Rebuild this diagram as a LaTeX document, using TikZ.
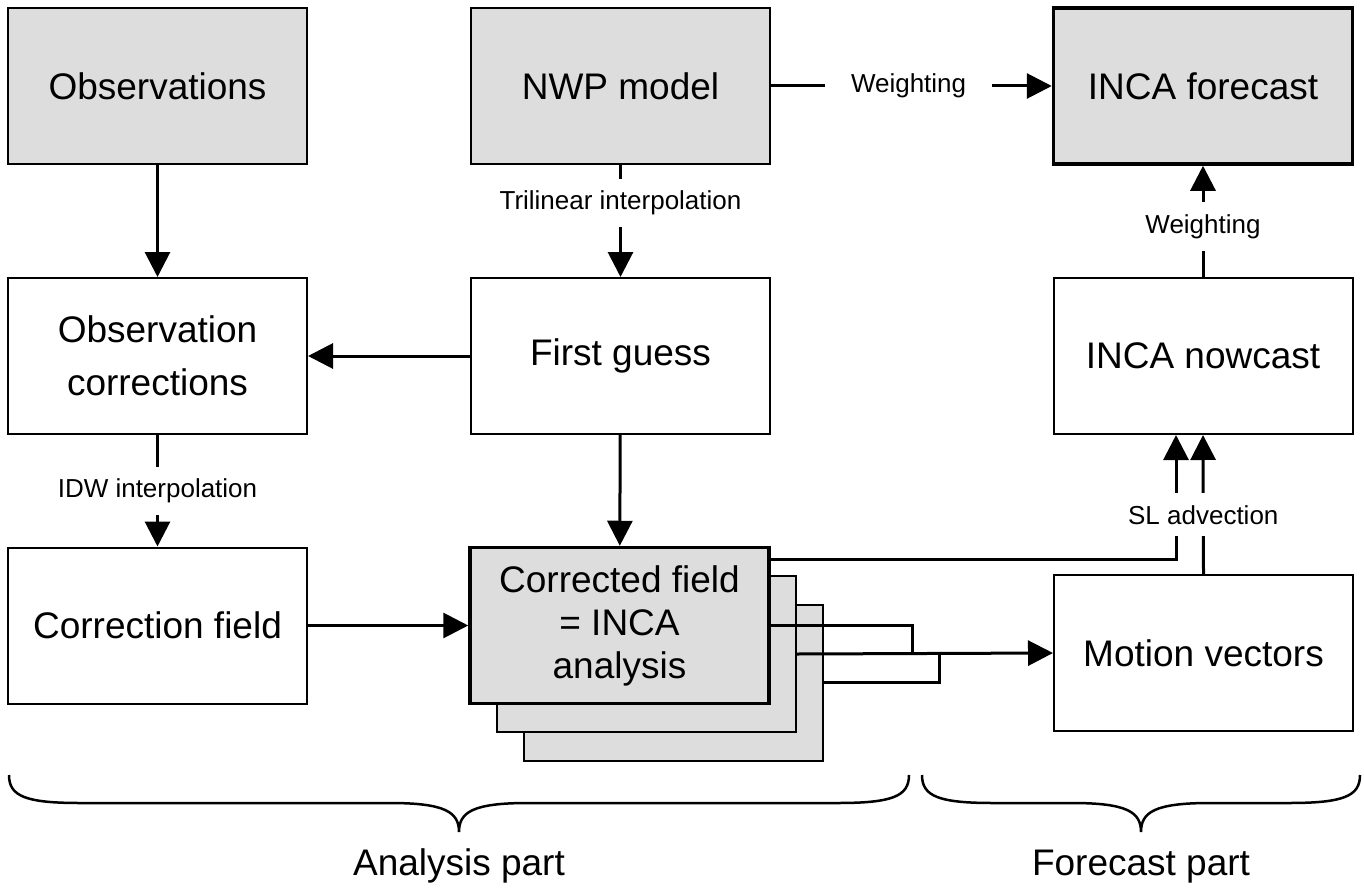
\documentclass[tikz,border=0pt]{standalone}
\usepackage{fontspec}
\setmainfont{Liberation Sans}
\usepackage{tikz}
\usetikzlibrary{arrows.meta}
\definecolor{boxgray}{RGB}{221,221,221}
\newcommand{\boxfont}{\fontsize{37}{43}\selectfont}
\newcommand{\notefont}{\fontsize{26}{30}\selectfont}

\begin{document}
\begin{tikzpicture}[x=1pt, y=-1pt,
    box/.style={draw, line width=2pt, minimum width=299pt, minimum height=156pt, inner sep=0pt, align=center, font=\boxfont},
    shaded/.style={box, fill=boxgray},
    heavy/.style={line width=3.5pt},
    link/.style={line width=3pt},
    flow/.style={link, -{Triangle[length=25pt, width=25pt]}},
    gaplabel/.style={fill=white, font=\notefont, inner xsep=26pt, inner ysep=12pt}]
      \useasboundingbox (0,0) rectangle (1364,888);

      \node [shaded] (obs) at (157.5,86) {Observations};
      \node [shaded] (nwp) at (620.5,86) {NWP model};
      \node [shaded, heavy] (fcst) at (1203,86) {INCA forecast};

      \node [box] (obscorr) at (157.5,356) {Observation\\[10pt]corrections};
      \node [box] (guess) at (620.5,356) {First guess};
      \node [box] (nowcast) at (1203,356) {INCA nowcast};

      \node [box] (corrfield) at (157.5,625.5) {Correction field};
      \node [shaded] (stackc) at (673.5,682.5) {};
      \node [shaded] (stackb) at (646.5,654) {};
      \node [shaded, heavy] (analysis) at (619.5,625.5) {Corrected field\\= INCA\\analysis};
      \node [box] (motion) at (1203.5,653) {Motion vectors};

      \draw[flow] (obs) -- (obscorr);
      \draw[flow] (nwp) -- node[gaplabel, pos=0.34] {Trilinear interpolation} (guess);
      \draw[flow] (nwp) -- node[gaplabel, pos=0.49] {Weighting} (fcst);
      \draw[flow] (guess) -- (obscorr);
      \draw[flow] (guess) -- (analysis);
      \draw[flow] (obscorr) -- node[gaplabel, pos=0.5] {IDW interpolation} (corrfield);
      \draw[flow] (corrfield) -- (analysis);
      \draw[flow] (nowcast) -- node[gaplabel, pos=0.455] {Weighting} (fcst);

      \coordinate (joinA) at (912,653);
      \coordinate (joinB) at (939,653);
      \draw[link] (analysis.east) -| (joinA);
      \draw[link] (stackc.east) -| (joinB);
      \draw[flow] (stackb.east) -- (motion.west);

      \draw[flow] ([yshift=-14pt]analysis.north east) -| ([xshift=-27pt]nowcast.south);
      \draw[flow] (motion.north) -- node[gaplabel, pos=0.425] {SL advection} (nowcast.south);

      \draw[line width=2.5pt] (9,775) .. controls (9,796) and (25,803) .. (80,803) -- (390,803)
        .. controls (445,803) and (459,812) .. (459,832) .. controls (459,812) and (473,803) .. (528,803)
        -- (838,803) .. controls (893,803) and (909,796) .. (909,775);
      \draw[line width=2.5pt] (922,775) .. controls (922,796) and (938,803) .. (993,803) -- (1072,803)
        .. controls (1127,803) and (1141,812) .. (1141,832) .. controls (1141,812) and (1155,803) .. (1210,803)
        -- (1289,803) .. controls (1344,803) and (1360,796) .. (1360,775);
      \node [font=\boxfont, anchor=base] (analysispart) at (459,875) {Analysis part};
      \node [font=\boxfont, anchor=base] (forecastpart) at (1141,875) {Forecast part};
    \end{tikzpicture}
\end{document}
